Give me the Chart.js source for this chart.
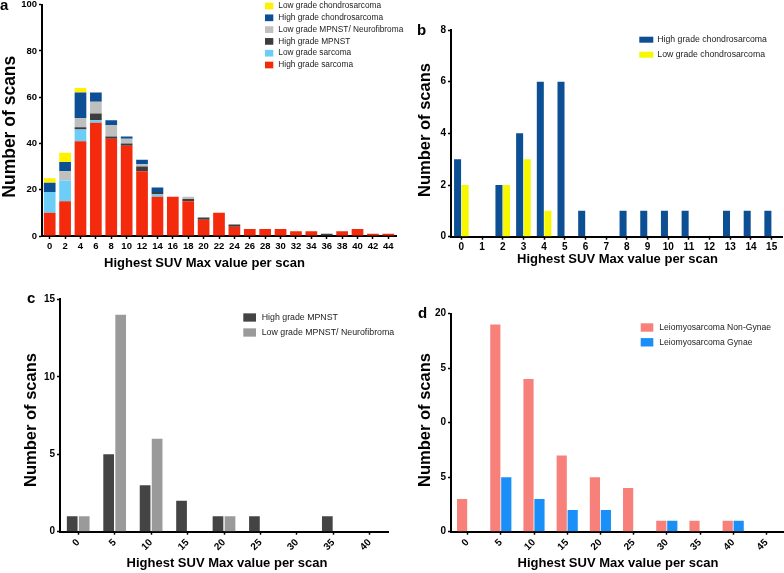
<!DOCTYPE html>
<html><head><meta charset="utf-8">
<script src="https://cdn.jsdelivr.net/npm/chart.js@4.4.1/dist/chart.umd.min.js"></script>
<style>
html,body{margin:0;padding:0;background:#fff;}
#wrap{position:relative;width:784px;height:573px;overflow:hidden;background:#fff}
canvas{position:absolute}
</style></head><body>
<div id="wrap">
<canvas id="ca" width="410" height="280" style="left:0;top:0"></canvas>
<canvas id="cb" width="384" height="280" style="left:400px;top:0"></canvas>
<canvas id="cc" width="400" height="293" style="left:0;top:280px"></canvas>
<canvas id="cd" width="384" height="293" style="left:400px;top:280px"></canvas>
</div>
<script>
// ---------- DATA ----------
// Panel a (stacked)
const aCategories = ['0','2','4','6','8','10','12','14','16','18','20','22','24','26','28','30','32','34','36','38','40','42','44'];
const aHighGradeSarcoma   = [10,15,41,49,42,39,28,17,17,15,7,10,4,3,3,3,2,2,0,2,3,1,1];
const aLowGradeSarcoma    = [9,9,5,1,0,0,0,1,0,0,0,0,0,0,0,0,0,0,0,0,0,0,0];
const aHighGradeMPNST     = [0,0,1,3,1,1,2,1,0,1,1,0,1,0,0,0,0,0,1,0,0,0,0];
const aLowGradeMPNST      = [0,4,4,5,5,2,1,0,0,1,0,0,0,0,0,0,0,0,0,0,0,0,0];
const aHighGradeChondro   = [4,4,11,4,2,1,2,2,0,0,0,0,0,0,0,0,0,0,0,0,0,0,0];
const aLowGradeChondro    = [2,4,2,0,0,0,0,0,0,0,0,0,0,0,0,0,0,0,0,0,0,0,0];
const aYTicks = [0,20,40,60,80,100];

// Panel b
const bCategories = ['0','1','2','3','4','5','6','7','8','9','10','11','12','13','14','15'];
const bHighGradeChondro = [3,0,2,4,6,6,1,0,1,1,1,1,0,1,1,1];
const bLowGradeChondro  = [2,0,2,3,1,0,0,0,0,0,0,0,0,0,0,0];
const bYTicks = [0,2,4,6,8];

// Panel c
const cCategories = ['0','5','10','15','20','25','30','35','40'];
const cHighGradeMPNST = [1,5,3,2,1,1,0,1,0];
const cLowGradeMPNST  = [1,14,6,0,1,0,0,0,0];
const cYTicks = [0,5,10,15];

// Panel d
const dCategories = ['0','5','10','15','20','25','30','35','40','45'];
const dNonGynae = [3,19,14,7,5,4,1,1,1,0];
const dGynae    = [0,5,3,2,2,0,1,0,1,0];
const dYTicks = [0,5,10,15,20];
const dYTickLabels = ['0','5','0','5','20'];

// ---------- STYLE / HELPERS ----------
const FF = "'Liberation Sans', Arial, sans-serif";

const deco = {
  id: 'deco',
  afterDraw(chart, args, o) {
    const ctx = chart.ctx;
    ctx.save();
    ctx.fillStyle = '#000';
    ctx.font = 'bold 15px ' + FF; ctx.textAlign = 'left'; ctx.textBaseline = 'alphabetic';
    ctx.fillText(o.letter.text, o.letter.x, o.letter.y);
    ctx.font = 'bold 13px ' + FF; ctx.textAlign = 'center'; ctx.textBaseline = 'middle';
    ctx.fillText(o.xTitle.text, o.xTitle.x, o.xTitle.y);
    ctx.save();
    ctx.translate(o.yTitle.x, o.yTitle.y); ctx.rotate(-Math.PI / 2);
    ctx.font = 'bold ' + o.yTitle.size + 'px ' + FF;
    ctx.fillText(o.yTitle.text, 0, 0);
    ctx.restore();
    const L = o.legend;
    ctx.font = L.size + 'px ' + FF; ctx.textAlign = 'left'; ctx.textBaseline = 'middle';
    L.order.forEach((di, i) => {
      const ds = chart.data.datasets[di];
      const y = L.y0 + i * L.dy;
      ctx.fillStyle = ds.backgroundColor;
      ctx.fillRect(L.x, y - L.bh / 2, L.bw, L.bh);
      ctx.fillStyle = '#222';
      ctx.fillText(ds.label, L.tx, y);
    });
    ctx.restore();
  }
};

function yScale(ticksArr, W, size, labels) {
  return {
    min: ticksArr[0], max: ticksArr[ticksArr.length - 1],
    afterBuildTicks(s) { s.ticks = ticksArr.map(v => ({ value: v })); },
    ticks: {
      color: '#000', font: { family: FF, size: size, weight: 'bold' }, padding: 2,
      callback: (v, i) => labels ? labels[i] : String(v)
    },
    grid: { drawOnChartArea: false, drawTicks: true, tickLength: 3, tickColor: '#000', tickWidth: 1.5 },
    border: { display: true, color: '#000', width: 2 },
    afterFit(s) { s.width = W; s.paddingTop = 0; s.paddingBottom = 0; s.paddingLeft = 0; s.paddingRight = 0; }
  };
}
function xScale(H, rot, size, stacked) {
  return {
    stacked: !!stacked, offset: true,
    ticks: { color: '#000', font: { family: FF, size: size, weight: 'bold' }, padding: 2,
             minRotation: rot, maxRotation: rot, autoSkip: false },
    grid: { display: true, drawOnChartArea: false, drawTicks: true, tickLength: 3, tickColor: '#000', tickWidth: 1.5, offset: false },
    border: { display: true, color: '#000', width: 2 },
    afterFit(s) { s.height = H; s.paddingTop = 0; s.paddingBottom = 0; s.paddingLeft = 0; s.paddingRight = 0; }
  };
}
const commonPlugins = { legend: { display: false }, tooltip: { enabled: false } };

// ---------- PANEL A ----------
new Chart(document.getElementById('ca'), {
  type: 'bar',
  data: {
    labels: aCategories,
    datasets: [
      { label: 'High grade sarcoma', data: aHighGradeSarcoma, backgroundColor: '#f42a0c' },
      { label: 'Low grade sarcoma', data: aLowGradeSarcoma, backgroundColor: '#6ccdf7' },
      { label: 'High grade MPNST', data: aHighGradeMPNST, backgroundColor: '#3d3d3d' },
      { label: 'Low grade MPNST/ Neurofibroma', data: aLowGradeMPNST, backgroundColor: '#bfbfbf' },
      { label: 'High grade chondrosarcoma', data: aHighGradeChondro, backgroundColor: '#0c4f94' },
      { label: 'Low grade chondrosarcoma', data: aLowGradeChondro, backgroundColor: '#fff200' }
    ]
  },
  options: {
    responsive: false, animation: false,
    layout: { padding: { left: 0, top: 4.7, right: 14, bottom: 0 } },
    datasets: { bar: { barPercentage: 0.76, categoryPercentage: 1.0, borderWidth: 0 } },
    scales: { x: xScale(44, 0, 9.5, true), y: Object.assign(yScale(aYTicks, 42, 9.5), { stacked: true }) },
    plugins: Object.assign({}, commonPlugins, {
      deco: {
        letter: { text: 'a', x: 0, y: 10 },
        xTitle: { text: 'Highest SUV Max value per scan', x: 204.5, y: 263 },
        yTitle: { text: 'Number of scans', x: 10, y: 126.7, size: 17.5 },
        legend: { order: [5,4,3,2,1,0], x: 265, bw: 8.3, bh: 6.7, y0: 6, dy: 11.8, tx: 278.3, size: 8.3 }
      }
    })
  },
  plugins: [deco]
});

// ---------- PANEL B ----------
new Chart(document.getElementById('cb'), {
  type: 'bar',
  data: {
    labels: bCategories,
    datasets: [
      { label: 'High grade chondrosarcoma', data: bHighGradeChondro, backgroundColor: '#0c4f94' },
      { label: 'Low grade chondrosarcoma', data: bLowGradeChondro, backgroundColor: '#f7f700' }
    ]
  },
  options: {
    responsive: false, animation: false,
    layout: { padding: { left: 0, top: 30, right: 2, bottom: 0 } },
    datasets: { bar: { barPercentage: 0.93, categoryPercentage: 0.73, borderWidth: 0 } },
    scales: { x: xScale(43.3, 0, 10), y: yScale(bYTicks, 51, 10) },
    plugins: Object.assign({}, commonPlugins, {
      deco: {
        letter: { text: 'b', x: 17, y: 35 },
        xTitle: { text: 'Highest SUV Max value per scan', x: 217.5, y: 259 },
        yTitle: { text: 'Number of scans', x: 25, y: 130, size: 16.5 },
        legend: { order: [0,1], x: 239.3, bw: 14, bh: 6, y0: 39.7, dy: 15, tx: 257.3, size: 8.7 }
      }
    })
  },
  plugins: [deco]
});

// ---------- PANEL C ----------
new Chart(document.getElementById('cc'), {
  type: 'bar',
  data: {
    labels: cCategories,
    datasets: [
      { label: 'High grade MPNST', data: cHighGradeMPNST, backgroundColor: '#444444' },
      { label: 'Low grade MPNST/ Neurofibroma', data: cLowGradeMPNST, backgroundColor: '#9a9a9a' }
    ]
  },
  options: {
    responsive: false, animation: false,
    layout: { padding: { left: 0, top: 19.3, right: 12, bottom: 0 } },
    datasets: { bar: { barPercentage: 0.89, categoryPercentage: 0.66, borderWidth: 0 } },
    scales: { x: xScale(41.3, 45, 10), y: yScale(cYTicks, 60, 10) },
    plugins: Object.assign({}, commonPlugins, {
      deco: {
        letter: { text: 'c', x: 27, y: 23 },
        xTitle: { text: 'Highest SUV Max value per scan', x: 227, y: 283 },
        yTitle: { text: 'Number of scans', x: 31, y: 140, size: 16.5 },
        legend: { order: [0,1], x: 243.3, bw: 12.7, bh: 8.3, y0: 37.5, dy: 15, tx: 261.7, size: 8.8 }
      }
    })
  },
  plugins: [deco]
});

// ---------- PANEL D ----------
new Chart(document.getElementById('cd'), {
  type: 'bar',
  data: {
    labels: dCategories,
    datasets: [
      { label: 'Leiomyosarcoma Non-Gynae', data: dNonGynae, backgroundColor: '#f8807a' },
      { label: 'Leiomyosarcoma Gynae', data: dGynae, backgroundColor: '#1a8ff7' }
    ]
  },
  options: {
    responsive: false, animation: false,
    layout: { padding: { left: 0, top: 33.7, right: 1, bottom: 0 } },
    datasets: { bar: { barPercentage: 0.93, categoryPercentage: 0.66, borderWidth: 0 } },
    scales: { x: xScale(41.3, 45, 10), y: yScale(dYTicks, 51, 10, dYTickLabels) },
    plugins: Object.assign({}, commonPlugins, {
      deco: {
        letter: { text: 'd', x: 18, y: 38 },
        xTitle: { text: 'Highest SUV Max value per scan', x: 218, y: 283 },
        yTitle: { text: 'Number of scans', x: 25, y: 140, size: 16.5 },
        legend: { order: [0,1], x: 240.7, bw: 12.6, bh: 8.4, y0: 47.5, dy: 14.8, tx: 259.3, size: 8.6 }
      }
    })
  },
  plugins: [deco]
});
</script>
</body></html>
